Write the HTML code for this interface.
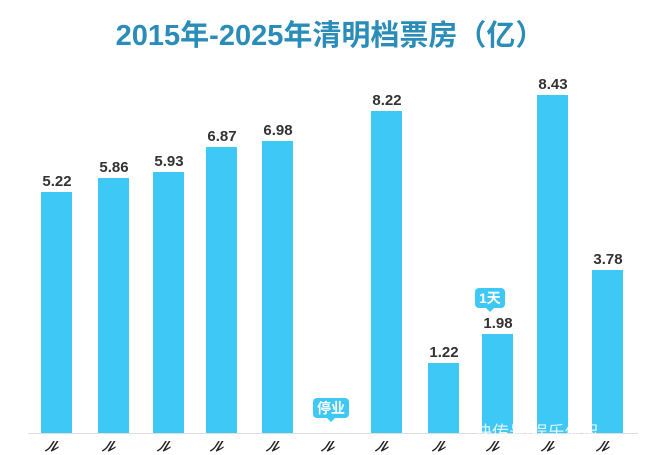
<!DOCTYPE html>
<html><head><meta charset="utf-8"><style>
body{margin:0;width:660px;height:449px;background:#fff;overflow:hidden;position:relative;font-family:"Liberation Sans","Noto Sans CJK SC",sans-serif}
.t{position:absolute;left:0;width:660px;top:12px;text-align:center;font-size:29px;font-weight:bold;color:#2a8cb8;letter-spacing:0px}
.b{position:absolute;width:31px;background:#3ec8f5;bottom:16px}
.v{position:absolute;width:60px;text-align:center;font-size:15px;font-weight:bold;color:#333}
.x{position:absolute;top:436px;font-size:13px;color:#222;font-style:italic;font-weight:bold;transform:skewX(-20deg)}
.tag{position:absolute;background:#3ec8f5;color:#fff;font-size:14px;font-weight:bold;border-radius:4px;padding:1px 4px;line-height:18px}
.tag:after{content:"";position:absolute;left:50%;bottom:-4px;margin-left:-4px;border:4px solid transparent;border-bottom:0;border-top-color:#3ec8f5}
</style></head><body>
<div class="t">2015年-2025年清明档票房（亿）</div>
<div style="position:absolute;left:28px;top:433px;width:610px;height:1px;background:#ddd"></div>
<div class="b" style="left:41px;top:192px"></div>
<div class="b" style="left:98px;top:178px"></div>
<div class="b" style="left:153px;top:172px"></div>
<div class="b" style="left:206px;top:147px"></div>
<div class="b" style="left:262px;top:141px"></div>
<div class="b" style="left:371px;top:111px"></div>
<div class="b" style="left:428px;top:363px"></div>
<div class="b" style="left:482px;top:334px"></div>
<div class="b" style="left:537px;top:95px"></div>
<div class="b" style="left:592px;top:270px"></div>
<div class="v" style="left:27px;top:173px">5.22</div>
<div class="v" style="left:84px;top:159px">5.86</div>
<div class="v" style="left:139px;top:153px">5.93</div>
<div class="v" style="left:192px;top:128px">6.87</div>
<div class="v" style="left:248px;top:122px">6.98</div>
<div class="v" style="left:357px;top:92px">8.22</div>
<div class="v" style="left:414px;top:344px">1.22</div>
<div class="v" style="left:468px;top:315px">1.98</div>
<div class="v" style="left:523px;top:76px">8.43</div>
<div class="v" style="left:578px;top:251px">3.78</div>
<div class="tag" style="left:313px;top:398px">停业</div>
<div class="tag" style="left:475px;top:288px">1天</div>
<div style="position:absolute;left:475px;top:418px;color:#fff;font-size:17px;opacity:.85">快传号/娱乐侃侃</div>
<div class="x" style="left:46px">ル</div><div class="x" style="left:103px">ル</div><div class="x" style="left:158px">ル</div><div class="x" style="left:211px">ル</div><div class="x" style="left:267px">ル</div><div class="x" style="left:322px">ル</div><div class="x" style="left:376px">ル</div><div class="x" style="left:433px">ル</div><div class="x" style="left:487px">ル</div><div class="x" style="left:542px">ル</div><div class="x" style="left:597px">ル</div>
</body></html>
